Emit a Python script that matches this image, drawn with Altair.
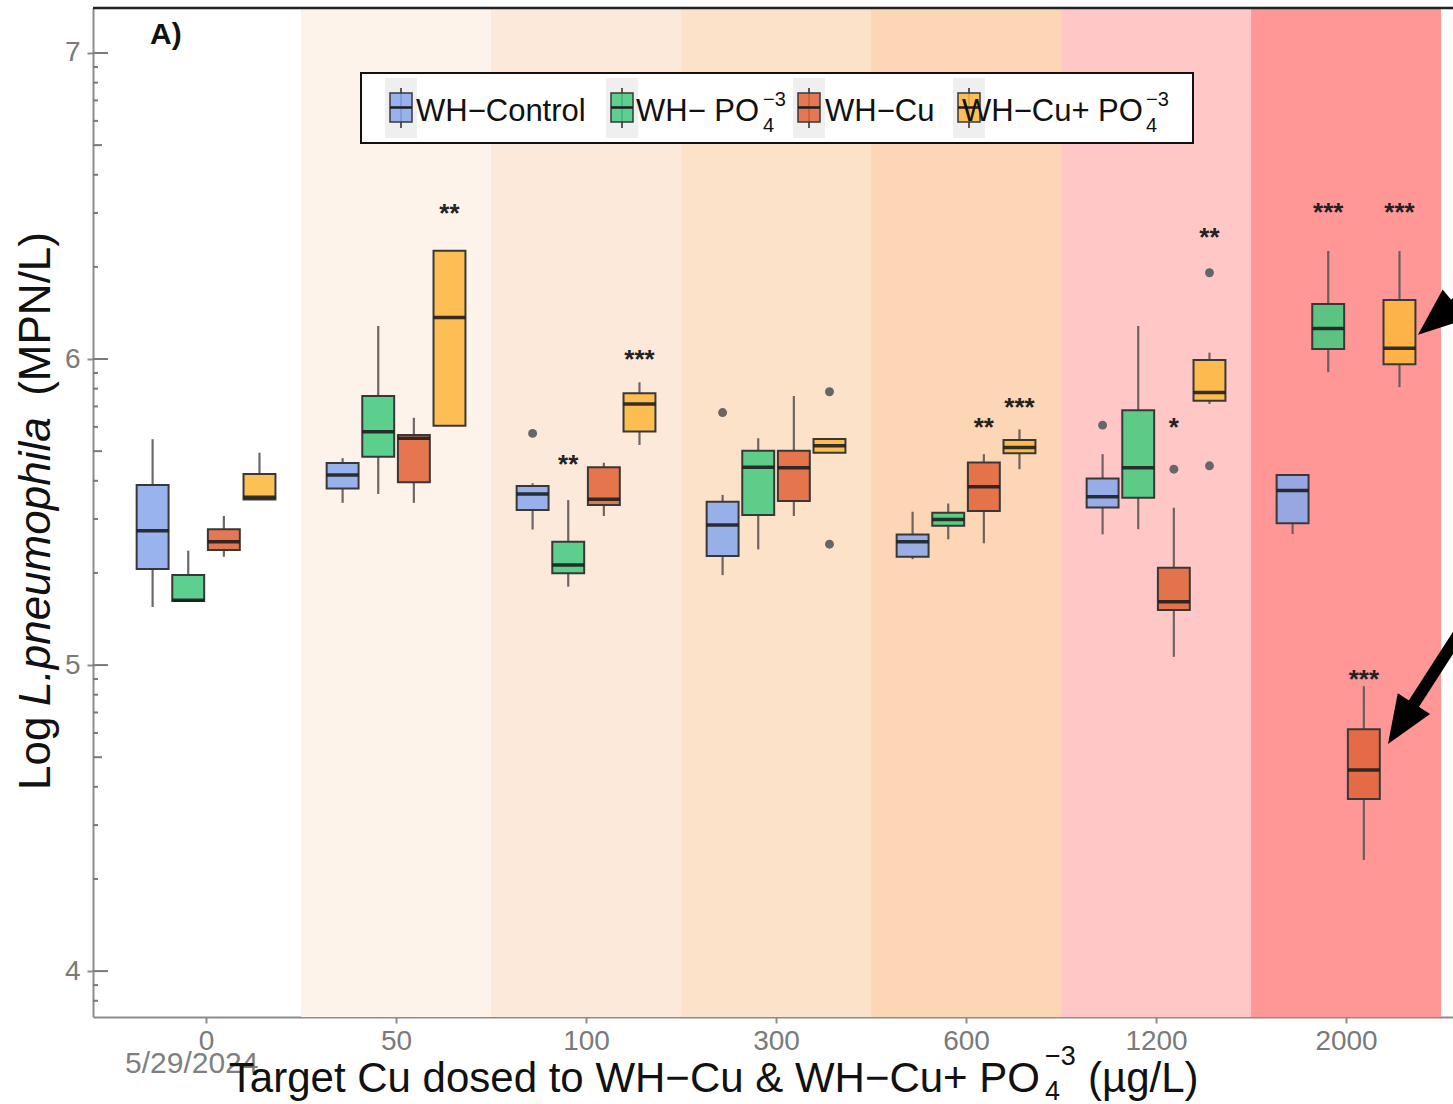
import json
import math

import altair as alt
import pandas as pd

# ---------------- data ----------------
groups = ["0", "50", "100", "300", "600", "1200", "2000"]
series = ["WH-Control", "WH-PO4", "WH-Cu", "WH-Cu+PO4"]

# five-number summaries per target Cu dose: lower whisker, Q1, median, Q3, upper whisker
ctrl_low = [5.190, 5.530, 5.443, 5.294, 5.346, 5.427, 5.428]
ctrl_q1 = [5.314, 5.577, 5.507, 5.356, 5.354, 5.515, 5.463]
ctrl_med = [5.439, 5.621, 5.559, 5.458, 5.403, 5.550, 5.570]
ctrl_q3 = [5.588, 5.660, 5.585, 5.534, 5.427, 5.610, 5.621]
ctrl_high = [5.738, 5.676, 5.594, 5.556, 5.501, 5.689, 5.621]

po4_low = [5.207, 5.559, 5.256, 5.378, 5.411, 5.444, 5.957]
po4_q1 = [5.209, 5.681, 5.300, 5.490, 5.455, 5.547, 6.033]
po4_med = [5.212, 5.762, 5.327, 5.646, 5.476, 5.645, 6.100]
po4_q3 = [5.294, 5.879, 5.403, 5.700, 5.498, 5.833, 6.180]
po4_high = [5.374, 6.108, 5.539, 5.741, 5.528, 6.108, 6.353]

cu_low = [5.354, 5.530, 5.487, 5.487, 5.398, 5.027, 4.363]
cu_q1 = [5.376, 5.597, 5.523, 5.536, 5.503, 5.180, 4.562]
cu_med = [5.403, 5.741, 5.542, 5.645, 5.583, 5.207, 4.657]
cu_q3 = [5.444, 5.752, 5.646, 5.700, 5.662, 5.318, 4.790]
cu_high = [5.487, 5.808, 5.661, 5.879, 5.689, 5.514, 4.931]

cupo4_low = [5.541, 5.782, 5.719, 5.694, 5.640, 5.853, 5.908]
cupo4_q1 = [5.541, 5.782, 5.763, 5.694, 5.692, 5.864, 5.983]
cupo4_med = [5.548, 6.136, 5.853, 5.717, 5.711, 5.891, 6.035]
cupo4_q3 = [5.624, 6.354, 5.888, 5.739, 5.735, 5.997, 6.193]
cupo4_high = [5.694, 6.354, 5.924, 5.739, 5.770, 6.021, 6.353]

outlier_group = ["100", "300", "300", "300", "1200", "1200", "1200", "1200"]
outlier_series = ["WH-Control", "WH-Control", "WH-Cu+PO4", "WH-Cu+PO4",
                  "WH-Control", "WH-Cu", "WH-Cu+PO4", "WH-Cu+PO4"]
outlier_value = [5.757, 5.825, 5.893, 5.395, 5.784, 5.640, 6.282, 5.651]

star_group = ["50", "100", "100", "600", "600", "1200", "1200", "2000", "2000", "2000"]
star_series = ["WH-Cu+PO4", "WH-PO4", "WH-Cu+PO4", "WH-Cu", "WH-Cu+PO4",
               "WH-Cu", "WH-Cu+PO4", "WH-PO4", "WH-Cu+PO4", "WH-Cu"]
star_value = [6.497, 5.676, 6.020, 5.797, 5.863, 5.797, 6.418, 6.500, 6.500, 4.975]
star_label = ["**", "**", "***", "**", "***", "*", "**", "***", "***", "***"]

# callout arrows (data units): head centre and a far-away tail
arrow_head_x = [7.476, 7.289]
arrow_head_y = [6.129, 4.808]
arrow_tail_x = [7.987, 7.789]
arrow_tail_y = [6.392, 5.291]
arrow_angle = [230.3, 212.7]

# ---------------- style / layout ----------------
FONT = "Liberation Sans"
W, H = 1360, 1009
X_DOMAIN = [0.405, 7.563]
Y_DOMAIN = [3.85, 7.147]
series_colors = ["#8AA8EC", "#47CA80", "#E0653A", "#FDB73E"]
band_colors = ["#FDF3EB", "#FDE9DA", "#FDE2CA", "#FDD6B5", "#FFC8C7", "#FF9797"]
dodge = [-0.28125, -0.09375, 0.09375, 0.28125]
HALF_BOX = 0.084
AXIS_GREY = "#8c8c8c"

x_scale = alt.Scale(domain=X_DOMAIN, nice=False, zero=False)
y_scale = alt.Scale(domain=Y_DOMAIN, nice=False, zero=False)

x_axis = alt.Axis(
    values=list(range(1, len(groups) + 1)),
    labelExpr="%s[datum.value - 1]" % json.dumps(groups),
    grid=False, domainColor=AXIS_GREY, domainWidth=2,
    tickColor=AXIS_GREY, tickWidth=2, tickSize=6,
    labelFont=FONT, labelFontSize=28, labelColor="#7a7a7a", labelPadding=4,
)
y_axis = alt.Axis(
    values=[4, 5, 6, 7], format="d",
    grid=False, domainColor=AXIS_GREY, domainWidth=2,
    tickColor=AXIS_GREY, tickWidth=2, tickSize=6,
    labelFont=FONT, labelFontSize=28, labelColor="#7a7a7a", labelPadding=7,
)


def X(field):
    return alt.X(field, type="quantitative", scale=x_scale, axis=x_axis, title=None)


def Y(field):
    return alt.Y(field, type="quantitative", scale=y_scale, axis=y_axis, title=None)


series_index = {s: i for i, s in enumerate(series)}
group_index = {g: i + 1 for i, g in enumerate(groups)}

# ---------------- tables ----------------
summaries = {
    "WH-Control": (ctrl_low, ctrl_q1, ctrl_med, ctrl_q3, ctrl_high),
    "WH-PO4": (po4_low, po4_q1, po4_med, po4_q3, po4_high),
    "WH-Cu": (cu_low, cu_q1, cu_med, cu_q3, cu_high),
    "WH-Cu+PO4": (cupo4_low, cupo4_q1, cupo4_med, cupo4_q3, cupo4_high),
}
rows = []
for s in series:
    lo, q1, md, q3, hi = summaries[s]
    for gi, g in enumerate(groups):
        pos = gi + 1 + dodge[series_index[s]]
        rows.append(dict(series=s, group=g, pos=pos, xl=pos - HALF_BOX, xr=pos + HALF_BOX,
                         low=lo[gi], q1=q1[gi], med=md[gi], q3=q3[gi], high=hi[gi]))
box_df = pd.DataFrame(rows)

out_df = pd.DataFrame({"group": outlier_group, "series": outlier_series, "value": outlier_value})
out_df["pos"] = [group_index[g] + dodge[series_index[s]] for g, s in zip(out_df.group, out_df.series)]

star_df = pd.DataFrame({"group": star_group, "series": star_series, "value": star_value, "label": star_label})
star_df["pos"] = [group_index[g] + dodge[series_index[s]] for g, s in zip(star_df.group, star_df.series)]

band_df = pd.DataFrame({"group": groups[1:], "color": band_colors})
band_df["lo"] = [group_index[g] - 0.5 for g in band_df.group]
band_df["hi"] = [group_index[g] + 0.5 for g in band_df.group]

# annotation_logticks-style marks on the left edge
in_dom = lambda v: Y_DOMAIN[0] <= v <= Y_DOMAIN[1]
long_ticks = [v for v in range(3, 8) if in_dom(v)]
mid_ticks = [v for v in (n + math.log10(5) for n in range(3, 7)) if in_dom(v)]
short_ticks = [v for v in (n + math.log10(k) for n in range(3, 7) for k in (2, 3, 4, 6, 7, 8, 9)) if in_dom(v)]

arrow_rows = []
for i in range(len(arrow_head_x)):
    arrow_rows.append(dict(arrow=i, x=arrow_tail_x[i], y=arrow_tail_y[i]))
    arrow_rows.append(dict(arrow=i, x=arrow_head_x[i], y=arrow_head_y[i]))
arrow_df = pd.DataFrame(arrow_rows)

one = pd.DataFrame({"k": [0]})

# ---------------- layers ----------------
layers = []

bands = alt.Chart(band_df).mark_rect().encode(
    x=X("lo"), x2="hi", y=alt.value(0), y2=alt.value(H),
    fill=alt.Fill("color:N", scale=None),
)
layers.append(bands)

for vals, length in ((long_ticks, 15), (mid_ticks, 9), (short_ticks, 5)):
    layers.append(
        alt.Chart(pd.DataFrame({"v": vals})).mark_rule(color="#7a7a7a", strokeWidth=2).encode(
            x=alt.value(0), x2=alt.value(length), y=Y("v")
        )
    )

base = alt.Chart(box_df)
whisker_style = dict(color="#5f5757", strokeWidth=2.2, opacity=0.9)
layers.append(base.mark_rule(**whisker_style).encode(x=X("pos"), y=Y("low"), y2="q1"))
layers.append(base.mark_rule(**whisker_style).encode(x=X("pos"), y=Y("q3"), y2="high"))
layers.append(
    base.mark_rect(stroke="#383838", strokeWidth=2, fillOpacity=0.88).encode(
        x=X("xl"), x2="xr", y=Y("q1"), y2="q3",
        fill=alt.Fill("series:N", scale=alt.Scale(domain=series, range=series_colors), legend=None),
    )
)
layers.append(base.mark_rule(color="#1e1e1e", strokeWidth=3.5, opacity=0.9).encode(x=X("xl"), x2="xr", y=Y("med")))

layers.append(alt.Chart(out_df).mark_circle(size=80, color="#666666", opacity=1).encode(x=X("pos"), y=Y("value")))

layers.append(
    alt.Chart(star_df).mark_text(font=FONT, fontSize=26, fontWeight="bold", color="#222222",
                                 baseline="alphabetic", dy=15).encode(x=X("pos"), y=Y("value"), text="label:N")
)

# top border of the panel
layers.append(alt.Chart(one).mark_rule(color="#222222", strokeWidth=2.5).encode(
    x=alt.value(0), x2=alt.value(W), y=alt.value(0)))

# callout arrows
layers.append(alt.Chart(arrow_df).mark_line(color="black", strokeWidth=12, strokeCap="butt").encode(
    x=X("x"), y=Y("y"), detail="arrow:N", order="y:Q"))
HEAD = "M0,-1L-0.8,1L0.8,1Z"
for i in range(len(arrow_head_x)):
    layers.append(
        alt.Chart(pd.DataFrame({"x": [arrow_head_x[i]], "y": [arrow_head_y[i]]})).mark_point(
            shape=HEAD, size=2304, filled=True, color="black", opacity=1, strokeWidth=0, angle=arrow_angle[i]
        ).encode(x=X("x"), y=Y("y"))
    )


def text(t, x, y, size, color="#111111", align="left", baseline="alphabetic", **kw):
    return alt.Chart(one).mark_text(text=t, font=FONT, fontSize=size, color=color, align=align,
                                    baseline=baseline, **kw).encode(x=alt.value(x), y=alt.value(y))


# panel tag
layers.append(text("A)", 57, 36, 30, fontWeight="bold"))

# legend box
layers.append(alt.Chart(one).mark_rect(fill="white", stroke="#111111", strokeWidth=2).encode(
    x=alt.value(268), x2=alt.value(1100), y=alt.value(65), y2=alt.value(135)))
key_centres = [308, 529, 716, 876]
for c, col in zip(key_centres, series_colors):
    layers.append(alt.Chart(one).mark_rect(fill="#EFEFEF").encode(
        x=alt.value(c - 16), x2=alt.value(c + 16), y=alt.value(70), y2=alt.value(130)))
    layers.append(alt.Chart(one).mark_rule(color="#5f5757", strokeWidth=2).encode(
        x=alt.value(c), y=alt.value(80), y2=alt.value(120)))
    layers.append(alt.Chart(one).mark_rect(fill=col, fillOpacity=0.86, stroke="#383838", strokeWidth=1.5).encode(
        x=alt.value(c - 11), x2=alt.value(c + 11), y=alt.value(85), y2=alt.value(114)))
    layers.append(alt.Chart(one).mark_rule(color="#1e1e1e", strokeWidth=2.5).encode(
        x=alt.value(c - 11), x2=alt.value(c + 11), y=alt.value(99.5)))

LEG = 31
layers.append(text("WH\u2212Control", 323, 113, LEG))
layers.append(text("WH\u2212 PO", 543, 113, LEG))
layers.append(text("\u22123", 670, 98, 20))
layers.append(text("4", 670, 124, 20))
layers.append(text("WH\u2212Cu", 732, 113, LEG))
layers.append(text("WH\u2212Cu+ PO", 869, 113, LEG))
layers.append(text("\u22123", 1053, 98, 20))
layers.append(text("4", 1053, 124, 20))

# x-axis title with the phosphate sub/superscript
layers.append(text("5/29/2024", 32, 1065, 30, color="#7f7f7f"))
layers.append(text("Target Cu dosed to WH\u2212Cu & WH\u2212Cu+ PO", 947, 1084, 42, align="right"))
layers.append(text("\u22123", 952, 1057, 27))
layers.append(text("4", 952, 1092, 27))
layers.append(text("(\u00b5g/L)", 995, 1084, 42))

# y-axis title with italic species name
layers.append(text("Log", -43, 782, 44, angle=270))
layers.append(text("L.pneumophila", -43, 698, 44, angle=270, fontStyle="italic"))
layers.append(text("(MPN/L)", -43, 224, 44, angle=270, align="right"))

chart = alt.layer(*layers).properties(
    width=W,
    height=H,
    autosize=alt.AutoSizeParams(type="none"),
    padding={"left": 93, "top": 8, "right": 0, "bottom": 87},
    background="white",
).configure_view(strokeWidth=0)

chart.save("out.html", embed_options={"renderer": "svg", "actions": False})
